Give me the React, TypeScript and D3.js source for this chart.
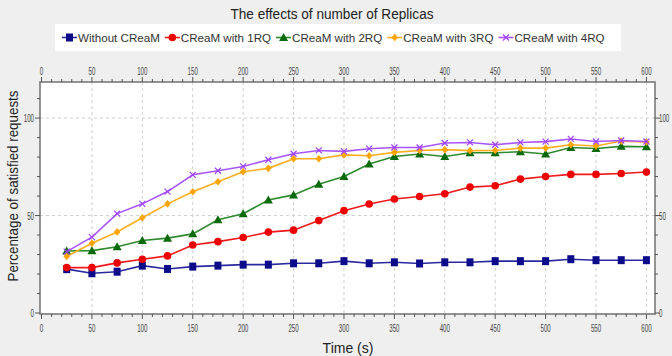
import React, { useEffect, useRef } from "react";
import * as d3 from "d3";

const title = "The effects of number of Replicas";
const xLabel = "Time (s)";
const yLabel = "Percentage of satisfied requests";

const times = [25, 50, 75, 100, 125, 150, 175, 200, 225, 250, 275, 300, 325, 350, 375, 400, 425, 450, 475, 500, 525, 550, 575, 600];

const seriesNames = ["Without CReaM", "CReaM with 1RQ", "CReaM with 2RQ", "CReaM with 3RQ", "CReaM with 4RQ"];

const withoutCReaM = [22.5, 20.4, 21.2, 24.3, 22.6, 23.8, 24.3, 24.8, 24.8, 25.5, 25.5, 26.6, 25.5, 26.0, 25.4, 26.0, 26.0, 26.6, 26.6, 26.6, 27.6, 27.1, 27.1, 27.1];
const rq1 = [23.3, 23.3, 25.7, 27.6, 29.3, 34.9, 36.6, 38.7, 41.5, 42.5, 47.4, 52.5, 55.9, 58.5, 59.8, 61.2, 64.6, 65.3, 68.7, 70.0, 71.1, 71.1, 71.6, 72.3];
const rq2 = [31.8, 32.0, 34.0, 37.2, 38.4, 40.6, 47.8, 50.9, 58.0, 60.6, 66.1, 70.0, 76.4, 80.3, 81.6, 80.3, 82.2, 82.2, 82.7, 81.6, 84.9, 84.4, 85.5, 85.3];
const rq3 = [29.0, 35.8, 41.6, 48.9, 56.0, 62.2, 67.3, 72.5, 74.2, 79.1, 79.1, 81.1, 80.7, 82.4, 83.4, 83.8, 83.3, 83.4, 84.6, 84.6, 86.3, 85.7, 88.2, 87.7];
const rq4 = [31.5, 38.9, 51.0, 56.0, 62.3, 70.9, 73.0, 75.2, 78.6, 81.7, 83.4, 82.9, 84.3, 84.9, 84.9, 87.2, 87.5, 86.3, 87.5, 87.9, 89.3, 88.0, 88.5, 88.0];

const seriesValues = [withoutCReaM, rq1, rq2, rq3, rq4];
const lineColors = ["#2a2aa0", "#f01818", "#2f8a2f", "#ffae1c", "#a855ff"];
const markerColors = ["#0c0c8a", "#ee0000", "#0b6a0b", "#ffa500", "#a040ff"];
const markerShapes = ["square", "circle", "triangle", "diamond", "cross"];

const xTickMajor = [0, 50, 100, 150, 200, 250, 300, 350, 400, 450, 500, 550, 600];
const yTickMajor = [0, 50, 100];

const W = 672;
const H = 356;
const L = 40, R = 655, T = 82, B = 314;

function drawMarker(g: any, shape: string, cx: number, cy: number, color: string) {
  if (shape === "square") {
    g.append("rect").attr("x", cx - 3.5).attr("y", cy - 4).attr("width", 7).attr("height", 8).attr("fill", color);
  } else if (shape === "circle") {
    g.append("circle").attr("cx", cx).attr("cy", cy).attr("r", 3.8).attr("fill", color);
  } else if (shape === "triangle") {
    g.append("path").attr("d", `M${cx},${cy - 4.5}L${cx + 4.5},${cy + 3.5}L${cx - 4.5},${cy + 3.5}Z`).attr("fill", color);
  } else if (shape === "diamond") {
    g.append("path").attr("d", `M${cx},${cy - 3.8}L${cx + 3.3},${cy}L${cx},${cy + 3.8}L${cx - 3.3},${cy}Z`).attr("fill", color);
  } else {
    g.append("path")
      .attr("d", `M${cx - 3},${cy - 3}L${cx + 3},${cy + 3}M${cx - 3},${cy + 3}L${cx + 3},${cy - 3}`)
      .attr("stroke", color).attr("stroke-width", 1.2).attr("fill", "none");
  }
}

export default function App() {
  const ref = useRef<SVGSVGElement | null>(null);

  useEffect(() => {
    const svg = d3.select(ref.current);
    svg.selectAll("*").remove();

    const x = d3.scaleLinear().domain([-1.5, 608.5]).range([L, R]);
    const y = d3.scaleLinear().domain([0, 118]).range([313, 83]);

    svg.append("rect").attr("width", W).attr("height", H).attr("fill", "#efefef");

    // title
    svg.append("text").attr("x", 332).attr("y", 19).attr("text-anchor", "middle")
      .attr("font-family", "Liberation Sans, Arial, sans-serif").attr("font-size", 14)
      .attr("textLength", 203).attr("lengthAdjust", "spacingAndGlyphs")
      .attr("fill", "#222").text(title);

    // legend
    svg.append("rect").attr("x", 55).attr("y", 24).attr("width", 566).attr("height", 27).attr("fill", "#ffffff");
    const lg = svg.append("g");
    let cursor = 62;
    seriesNames.forEach((name, i) => {
      const gy = 37.5;
      lg.append("line").attr("x1", cursor).attr("x2", cursor + 15).attr("y1", gy).attr("y2", gy)
        .attr("stroke", lineColors[i]).attr("stroke-width", 1.6);
      drawMarker(lg, markerShapes[i], cursor + 7.5, gy, markerColors[i]);
      const t = lg.append("text").attr("x", cursor + 16).attr("y", gy + 4.3)
        .attr("font-family", "Liberation Sans, Arial, sans-serif").attr("font-size", 11.6)
        .attr("fill", "#333").text(name);
      const w = (t.node() as SVGTextElement).getComputedTextLength();
      cursor = cursor + 16 + w + 5;
    });

    // plot area
    svg.append("rect").attr("x", L).attr("y", T).attr("width", R - L).attr("height", B - T).attr("fill", "#ffffff");

    // grid
    const grid = svg.append("g").attr("stroke", "#cfcfcf").attr("stroke-width", 1).attr("stroke-dasharray", "3,3");
    xTickMajor.filter((v) => v > 0).forEach((v) => {
      grid.append("line").attr("x1", x(v)).attr("x2", x(v)).attr("y1", T).attr("y2", B);
    });
    yTickMajor.filter((v) => v > 0).forEach((v) => {
      grid.append("line").attr("x1", L).attr("x2", R).attr("y1", y(v)).attr("y2", y(v));
    });

    // border
    svg.append("rect").attr("x", L).attr("y", T).attr("width", R - L).attr("height", B - T)
      .attr("fill", "none").attr("stroke", "#7a7a7a").attr("stroke-width", 1.6);

    const tickFont = "Liberation Sans, Arial, sans-serif";
    const ticks = svg.append("g").attr("stroke", "#555").attr("stroke-width", 1);
    const labels = svg.append("g").attr("font-family", tickFont).attr("font-size", 11).attr("fill", "#444");
    const SX = 0.56;
    const addLabel = (s: string, px: number, py: number, anchor: string) => {
      labels.append("g").attr("transform", `translate(${px},${py}) scale(${SX},1)`)
        .append("text").attr("x", 0).attr("y", 0).attr("text-anchor", anchor).text(s);
    };

    // x ticks (top and bottom)
    d3.range(0, 601, 10).forEach((v) => {
      const major = v % 50 === 0;
      const len = major ? 5 : 3;
      ticks.append("line").attr("x1", x(v)).attr("x2", x(v)).attr("y1", B).attr("y2", B + len);
      ticks.append("line").attr("x1", x(v)).attr("x2", x(v)).attr("y1", T).attr("y2", T - len);
    });
    xTickMajor.forEach((v) => {
      const s = String(v);
      addLabel(s, x(v), 332, "middle");
      addLabel(s, x(v), 75, "middle");
    });

    // y ticks (left and right)
    d3.range(0, 111, 10).forEach((v) => {
      const major = v % 50 === 0;
      const len = major ? 5 : 3;
      ticks.append("line").attr("x1", L).attr("x2", L - len).attr("y1", y(v)).attr("y2", y(v));
      ticks.append("line").attr("x1", R).attr("x2", R + len).attr("y1", y(v)).attr("y2", y(v));
    });
    yTickMajor.forEach((v) => {
      const s = String(v);
      addLabel(s, L - 6, y(v) + 4, "end");
      addLabel(s, R + 4, y(v) + 4, "start");
    });

    // axis titles
    svg.append("text").attr("x", 348).attr("y", 353).attr("text-anchor", "middle")
      .attr("font-family", tickFont).attr("font-size", 14).attr("fill", "#222").text(xLabel);
    svg.append("text").attr("transform", "translate(18,186) rotate(-90)").attr("text-anchor", "middle")
      .attr("font-family", tickFont).attr("font-size", 14).attr("fill", "#222")
      .attr("textLength", 191).attr("lengthAdjust", "spacingAndGlyphs").text(yLabel);

    // series
    const line = d3.line<number>().x((_, i) => x(times[i])).y((d) => y(d));
    seriesValues.forEach((vals, si) => {
      const g = svg.append("g");
      g.append("path").datum(vals).attr("d", line as any).attr("fill", "none")
        .attr("stroke", lineColors[si]).attr("stroke-width", 1.6);
      vals.forEach((v, i) => drawMarker(g, markerShapes[si], x(times[i]), y(v), markerColors[si]));
    });
  }, []);

  return (
    <div style={{ position: "absolute", left: 0, top: 0 }}>
      <svg ref={ref} width={W} height={H} style={{ display: "block" }} />
    </div>
  );
}
